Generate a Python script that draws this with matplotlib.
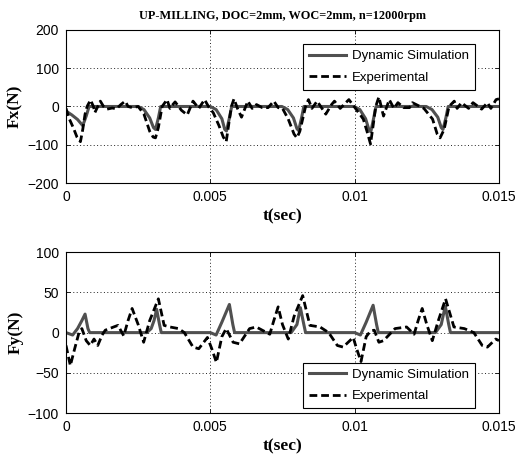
import numpy as np
import matplotlib.pyplot as plt

# cutting forces, up-milling, 2 teeth @ 12000 rpm
t_sim_x = [0, 0.0002, 0.0004, 0.00058, 0.0007, 0.0008,
           0.0025, 0.0027, 0.0029, 0.00303, 0.0031, 0.0032, 0.00328,
           0.0050, 0.0052, 0.0054, 0.0055, 0.00556, 0.00566, 0.00574,
           0.00748, 0.00768, 0.00788, 0.0080, 0.00806, 0.00816, 0.00824,
           0.00998, 0.01018, 0.01038, 0.0105, 0.01056, 0.01066, 0.01074,
           0.01248, 0.01268, 0.01288, 0.0130, 0.01306, 0.01316, 0.01324,
           0.015]
fx_sim = [-12, -22, -34, -50, -25, 0,
          0, -8, -30, -55, -60, -30, 0,
          0, -8, -32, -60, -64, -30, 0,
          0, -8, -30, -58, -63, -30, 0,
          0, -8, -32, -62, -66, -30, 0,
          0, -8, -28, -55, -60, -30, 0,
          0]

t_exp_x = [0.0, 0.0001, 0.00025, 0.00038, 0.0005, 0.00058, 0.00066, 0.00073,
           0.00085, 0.00095, 0.001, 0.0011, 0.00119, 0.0013, 0.00142, 0.0016,
           0.00175, 0.0019, 0.00205, 0.00215, 0.0023, 0.0025, 0.0027, 0.0029,
           0.00302, 0.0031, 0.0032, 0.00333, 0.0035, 0.0036, 0.0037, 0.00378,
           0.0040, 0.0042, 0.00435, 0.0044, 0.0046, 0.0048, 0.00495, 0.0051,
           0.0053, 0.00545, 0.00555, 0.00565, 0.00573, 0.00582, 0.00594, 0.00608,
           0.0062, 0.0063, 0.00645, 0.0066, 0.0068, 0.007, 0.0072, 0.00735,
           0.0075, 0.0077, 0.0079, 0.008, 0.0081, 0.0083, 0.0084, 0.00852,
           0.0087, 0.009, 0.0092, 0.0093, 0.0095, 0.0098, 0.01, 0.0103,
           0.01044, 0.01055, 0.01064, 0.01073, 0.01084, 0.011, 0.0112, 0.01136,
           0.0115, 0.0117, 0.0119, 0.012, 0.0124, 0.0127, 0.01286, 0.01296,
           0.0131, 0.01327, 0.01345, 0.01355, 0.0137, 0.01395, 0.0141, 0.0144,
           0.0146, 0.01472, 0.0149, 0.015]
fx_exp = [-5, -30, -55, -80, -92, -60, -20, 0,
          17, 0, -16, 0, 14, 0, -7, -4,
          -6, 5, 14, 0, -3, 0, -20, -65,
          -80, -82, -55, 0, 18, -5, 5, 12,
          -10, -22, 5, 14, -5, 18, -2, -16,
          -50, -80, -92, -40, 0, 20, -5, -28,
          -5, 14, -5, 5, -3, -3, 14, -3,
          -5, -33, -72, -82, -65, 0, 18, -5,
          14, -20, 5, 14, -5, 18, -2, -33,
          -68, -98, -50, 0, 25, -25, 18, -5,
          10, -3, -3, 10, -5, -33, -72, -82,
          -60, 0, 14, -5, 10, -5, 10, -7,
          10, -5, 18, 20]

t_sim_y = [0, 0.00023, 0.0004, 0.00055, 0.00066, 0.00076, 0.00082,
           0.0028, 0.00295, 0.00305, 0.00314, 0.00324, 0.0033,
           0.005, 0.0052, 0.0054, 0.00566, 0.00578, 0.00584,
           0.0078, 0.008, 0.00812, 0.00824, 0.0083,
           0.01, 0.0102, 0.0104, 0.01064, 0.01076, 0.01082,
           0.0128, 0.013, 0.01314, 0.01326, 0.01332,
           0.015]
fy_sim = [0, -3, 5, 15, 23, 5, 0,
          0, 5, 15, 29, 10, 0,
          0, -3, 13, 35, 10, 0,
          0, 10, 31, 10, 0,
          0, -3, 13, 34, 10, 0,
          0, 10, 33, 10, 0,
          0]

t_exp_y = [0.0, 0.00015, 0.0003, 0.00045, 0.00055, 0.0007, 0.00084, 0.00097,
           0.0011, 0.00125, 0.00136, 0.00165, 0.0018, 0.002, 0.00215, 0.00229,
           0.0025, 0.00269, 0.0029, 0.0032, 0.0034, 0.0036, 0.0039, 0.0041,
           0.0044, 0.0046, 0.0049, 0.00505, 0.00521, 0.0054, 0.00555, 0.00579,
           0.00601, 0.00636, 0.00659, 0.00706, 0.0072, 0.00735, 0.0075, 0.0077,
           0.0079, 0.0082, 0.00845, 0.0088, 0.0091, 0.0094, 0.0096, 0.00995,
           0.01005, 0.01022, 0.0104, 0.01055, 0.01068, 0.01084, 0.011, 0.0114,
           0.0118, 0.01206, 0.0122, 0.01234, 0.0125, 0.01269, 0.0129, 0.01315,
           0.01344, 0.0138, 0.01413, 0.01442, 0.0146, 0.01489, 0.015]
fy_exp = [-16, -41, -20, 0, 5, -10, -16, -8,
          -16, -3, 3, 7, 9, -4, 15, 30,
          10, -12, 15, 42, 9, 7, 5, 0,
          -18, -20, -6, -20, -37, -5, 5, -12,
          -14, 5, 7, -2, 15, 32, 10, -8,
          20, 46, 9, 7, 0, -16, -18, -6,
          -18, -36, -5, 2, 3, -12, -10, 5,
          7, -2, 15, 30, 10, -10, 15, 42,
          7, 5, 0, -16, -18, -8, -10]

xticks = [0, 0.005, 0.01, 0.015]
xtick_labels = ['0', '0.005', '0.01', '0.015']
yticks_x = [-200, -100, 0, 100, 200]
yticks_y = [-100, -50, 0, 50, 100]

plt.rcParams['font.family'] = 'Liberation Sans'

fig = plt.figure(figsize=(5.21, 4.61), dpi=100)
ax1 = fig.add_axes([0.1267, 0.603, 0.831, 0.332])
ax2 = fig.add_axes([0.1267, 0.104, 0.831, 0.349])

serif = {'family': 'Liberation Serif', 'weight': 'bold'}

def style(ax, t_sim, f_sim, t_exp, f_exp, yticks, ylabel, legend_loc, anchor):
    ax.plot(t_sim, f_sim, color='#505050', lw=2.2, label='Dynamic Simulation')
    ax.plot(t_exp, f_exp, color='black', lw=2.0, dashes=(2.8, 1.4),
            label='Experimental')
    ax.set_xlim(0, 0.015)
    ax.set_ylim(yticks[0], yticks[-1])
    ax.set_xticks(xticks)
    ax.set_xticklabels(xtick_labels)
    ax.set_yticks(yticks)
    ax.tick_params(direction='in', top=True, right=True, labelsize=10,
                   length=3, width=0.6, pad=5)
    ax.grid(True, color='#222222', ls=(0, (1, 2.5)), lw=0.7)
    for s in ax.spines.values():
        s.set_linewidth(0.8)
    ax.set_xlabel('t(sec)', fontdict=serif, fontsize=12.5, labelpad=3)
    ax.set_ylabel(ylabel, fontdict=serif, fontsize=12.5, labelpad=3)
    leg = ax.legend(loc=legend_loc, bbox_to_anchor=anchor, fontsize=9.5,
                    handlelength=2.8, handletextpad=0.5, borderpad=0.45,
                    labelspacing=0.7, borderaxespad=0, fancybox=False,
                    framealpha=1)
    leg.get_frame().set_edgecolor('black')
    leg.get_frame().set_linewidth(0.8)

style(ax1, t_sim_x, fx_sim, t_exp_x, fx_exp, yticks_x, 'Fx(N)',
      'upper left', (0.547, 0.908))
style(ax2, t_sim_y, fy_sim, t_exp_y, fy_exp, yticks_y, 'Fy(N)',
      'lower left', (0.547, 0.03))

ax1.set_title('UP-MILLING, DOC=2mm, WOC=2mm, n=12000rpm', fontdict=serif,
              fontsize=8.8, pad=8)

fig.savefig('out.png', dpi=100)
